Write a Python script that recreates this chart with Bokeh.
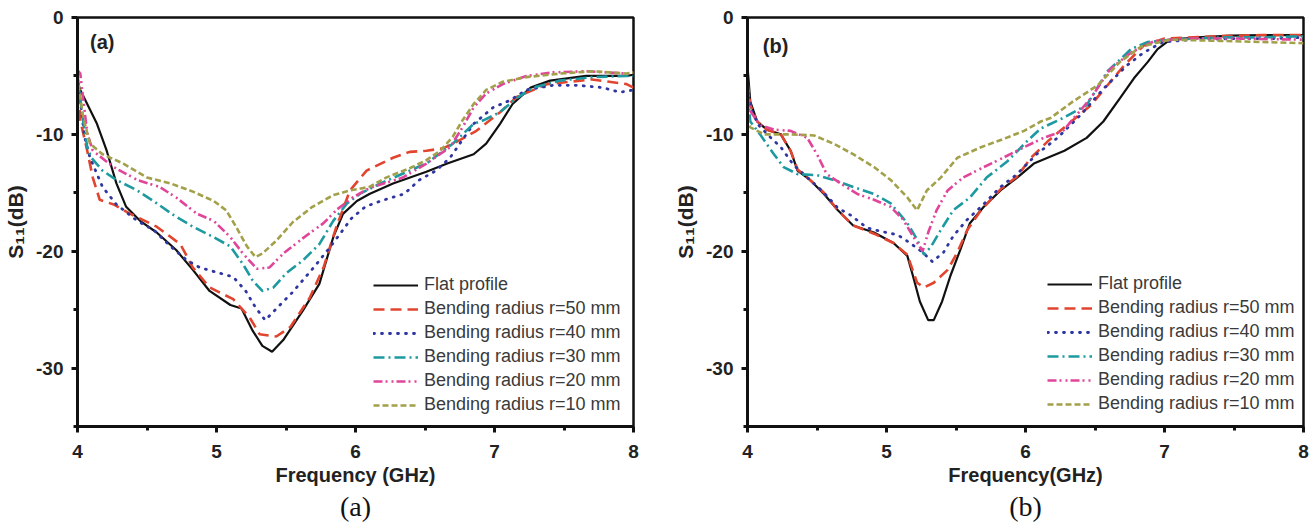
from bokeh.plotting import figure
from bokeh.models import FixedTicker, Legend, LegendItem, Label, Title, Range1d
from bokeh.layouts import row
from bokeh.embed import file_html
from bokeh.resources import INLINE

# ---------------- data ----------------
labels = ["Flat profile", "Bending radius r=50 mm", "Bending radius r=40 mm",
          "Bending radius r=30 mm", "Bending radius r=20 mm", "Bending radius r=10 mm"]
x_ticks = [4, 5, 6, 7, 8]
y_ticks = [0, -10, -20, -30]
y_tick_labels = ["0", "-10", "-20", "-30"]

# Panel (a)
a_flat_x = [4.00, 4.02, 4.07, 4.14, 4.21, 4.28, 4.35, 4.45, 4.57, 4.71, 4.83, 4.95, 5.10, 5.18, 5.26, 5.33, 5.40, 5.48, 5.62, 5.74, 5.84, 5.91, 6.01, 6.10, 6.27, 6.51, 6.66, 6.85, 6.94, 7.04, 7.13, 7.26, 7.40, 7.66, 7.95, 8.00]
a_flat_y = [-5.5, -6.2, -7.4, -9.1, -11.4, -14.2, -16.2, -17.4, -18.4, -19.9, -21.6, -23.4, -24.6, -24.9, -26.8, -28.1, -28.6, -27.6, -25.1, -22.8, -18.8, -16.8, -15.7, -15.1, -14.2, -13.2, -12.5, -11.7, -10.8, -9.1, -7.4, -6.0, -5.4, -5.0, -5.0, -4.9]
a_r50_x = [4.00, 4.02, 4.07, 4.11, 4.16, 4.26, 4.38, 4.57, 4.74, 4.83, 4.95, 5.12, 5.24, 5.31, 5.43, 5.53, 5.67, 5.77, 5.86, 5.96, 6.08, 6.27, 6.39, 6.51, 6.63, 6.75, 6.87, 7.04, 7.16, 7.38, 7.70, 7.95, 8.00]
a_r50_y = [-5.0, -8.8, -11.4, -13.7, -15.6, -16.0, -16.8, -17.9, -19.4, -21.4, -23.1, -24.1, -25.7, -27.1, -27.3, -26.5, -24.0, -21.4, -18.0, -14.8, -13.1, -12.0, -11.5, -11.4, -11.2, -10.5, -9.7, -8.1, -6.8, -5.7, -5.3, -5.7, -6.0]
a_r40_x = [4.00, 4.05, 4.09, 4.18, 4.28, 4.43, 4.55, 4.67, 4.79, 4.88, 5.00, 5.12, 5.21, 5.28, 5.35, 5.44, 5.54, 5.62, 5.72, 5.80, 5.89, 5.97, 6.07, 6.18, 6.35, 6.46, 6.58, 6.68, 6.75, 6.85, 6.99, 7.11, 7.23, 7.42, 7.60, 7.78, 7.90, 8.00]
a_r40_y = [-5.0, -10.2, -12.0, -14.5, -16.0, -17.4, -18.2, -19.6, -20.8, -21.4, -21.8, -22.2, -23.4, -24.8, -25.9, -24.8, -23.6, -22.5, -21.1, -19.9, -18.5, -17.2, -16.2, -15.7, -15.1, -13.9, -13.1, -12.0, -10.8, -9.1, -7.7, -7.1, -6.2, -5.8, -5.8, -6.0, -6.4, -6.2]
a_r30_x = [4.00, 4.03, 4.07, 4.10, 4.18, 4.28, 4.43, 4.57, 4.69, 4.83, 4.98, 5.10, 5.19, 5.26, 5.33, 5.41, 5.50, 5.62, 5.74, 5.84, 5.94, 6.03, 6.18, 6.39, 6.51, 6.70, 6.85, 6.92, 7.04, 7.16, 7.28, 7.47, 7.71, 7.95, 8.00]
a_r30_y = [-5.0, -8.0, -11.1, -12.0, -13.1, -13.9, -14.8, -15.9, -16.9, -17.9, -18.8, -19.6, -21.1, -22.5, -23.4, -23.1, -21.9, -20.8, -19.4, -17.4, -15.9, -15.1, -14.2, -13.1, -12.5, -10.8, -9.1, -8.8, -8.1, -6.9, -6.0, -5.4, -5.1, -5.0, -5.0]
a_r20_x = [4.00, 4.02, 4.07, 4.11, 4.26, 4.43, 4.59, 4.71, 4.86, 4.98, 5.10, 5.19, 5.29, 5.38, 5.48, 5.62, 5.77, 5.87, 5.98, 6.10, 6.34, 6.51, 6.68, 6.77, 6.85, 6.94, 7.06, 7.23, 7.42, 7.66, 7.95, 8.00]
a_r20_y = [-4.5, -4.8, -9.9, -11.4, -12.8, -13.9, -14.5, -15.4, -16.8, -17.4, -18.8, -20.2, -21.5, -21.4, -20.2, -18.9, -17.6, -16.4, -15.4, -14.6, -13.7, -12.5, -11.1, -9.4, -7.7, -6.5, -5.7, -5.0, -4.7, -4.6, -4.8, -4.7]
a_r10_x = [4.00, 4.04, 4.09, 4.18, 4.33, 4.50, 4.67, 4.83, 4.98, 5.07, 5.14, 5.22, 5.28, 5.33, 5.43, 5.55, 5.69, 5.84, 5.96, 6.10, 6.22, 6.39, 6.51, 6.61, 6.70, 6.77, 6.85, 6.94, 7.06, 7.23, 7.47, 7.71, 7.95, 8.00]
a_r10_y = [-5.0, -8.5, -10.8, -11.7, -12.5, -13.7, -14.2, -14.9, -15.7, -16.5, -17.9, -19.6, -20.5, -20.2, -19.1, -17.5, -16.2, -15.2, -14.8, -14.5, -13.7, -12.9, -12.2, -11.4, -10.2, -8.8, -7.4, -6.2, -5.5, -5.1, -4.8, -4.6, -4.8, -4.7]

# Panel (b)
b_flat_x = [4.00, 4.02, 4.07, 4.14, 4.24, 4.31, 4.36, 4.45, 4.55, 4.65, 4.76, 4.91, 5.05, 5.15, 5.19, 5.24, 5.30, 5.34, 5.40, 5.46, 5.53, 5.60, 5.70, 5.82, 5.94, 6.06, 6.28, 6.44, 6.56, 6.68, 6.78, 6.88, 6.95, 7.04, 7.24, 7.48, 7.72, 8.00]
b_flat_y = [-4.2, -7.2, -8.9, -9.6, -10.0, -11.4, -13.1, -13.9, -15.1, -16.5, -17.8, -18.4, -19.3, -20.4, -22.1, -24.3, -25.9, -25.9, -24.3, -22.1, -19.9, -17.6, -16.2, -14.8, -13.7, -12.5, -11.4, -10.3, -8.9, -6.9, -5.2, -3.8, -2.7, -1.9, -1.7, -1.55, -1.5, -1.5]
b_r50_x = [4.00, 4.02, 4.07, 4.14, 4.24, 4.31, 4.36, 4.45, 4.55, 4.65, 4.76, 4.91, 5.05, 5.15, 5.22, 5.27, 5.34, 5.44, 5.51, 5.58, 5.68, 5.82, 5.94, 6.04, 6.16, 6.32, 6.47, 6.71, 6.85, 7.00, 7.40, 7.70, 8.00]
b_r50_y = [-5.5, -7.5, -8.9, -9.6, -10.0, -11.4, -13.0, -13.9, -15.0, -16.5, -17.8, -18.5, -19.3, -20.3, -22.7, -23.1, -22.7, -21.6, -20.1, -18.2, -16.5, -14.7, -13.6, -12.0, -10.6, -9.0, -7.5, -4.1, -2.4, -1.8, -1.6, -1.5, -1.5]
b_r40_x = [4.00, 4.03, 4.08, 4.16, 4.24, 4.33, 4.45, 4.55, 4.65, 4.74, 4.86, 4.96, 5.08, 5.17, 5.26, 5.33, 5.41, 5.48, 5.58, 5.68, 5.82, 5.94, 6.08, 6.23, 6.40, 6.56, 6.73, 6.85, 6.99, 7.19, 7.50, 7.80, 8.00]
b_r40_y = [-6.0, -8.0, -9.2, -10.2, -11.1, -12.6, -13.9, -15.0, -16.3, -16.9, -18.0, -18.3, -18.6, -19.3, -20.1, -20.9, -20.1, -18.7, -17.3, -16.2, -14.5, -13.4, -11.7, -10.3, -8.3, -6.1, -4.1, -3.0, -2.1, -1.9, -1.8, -1.8, -1.7]
b_r30_x = [4.00, 4.02, 4.09, 4.19, 4.26, 4.36, 4.50, 4.62, 4.76, 4.91, 5.03, 5.15, 5.22, 5.27, 5.32, 5.39, 5.48, 5.60, 5.72, 5.87, 6.01, 6.11, 6.27, 6.44, 6.59, 6.76, 6.88, 7.05, 7.40, 7.70, 8.00]
b_r30_y = [-6.5, -8.9, -10.0, -11.7, -12.8, -13.4, -13.5, -13.9, -14.5, -15.1, -15.9, -17.6, -19.0, -20.3, -19.6, -18.2, -16.5, -15.4, -13.7, -12.3, -10.6, -9.5, -8.6, -7.5, -4.6, -2.7, -2.1, -1.9, -1.7, -1.7, -1.6]
b_r20_x = [4.00, 4.02, 4.09, 4.19, 4.31, 4.43, 4.50, 4.57, 4.67, 4.79, 4.91, 5.03, 5.12, 5.19, 5.26, 5.30, 5.36, 5.44, 5.55, 5.70, 5.84, 5.99, 6.13, 6.27, 6.47, 6.61, 6.76, 6.93, 7.20, 7.50, 8.00]
b_r20_y = [-6.0, -8.0, -9.2, -9.6, -9.7, -10.3, -11.7, -13.4, -14.2, -15.1, -15.6, -16.2, -17.3, -18.7, -20.0, -18.4, -16.5, -14.8, -13.7, -12.8, -12.0, -11.1, -10.3, -9.7, -6.9, -4.4, -3.0, -2.0, -1.8, -1.8, -1.9]
b_r10_x = [4.00, 4.02, 4.12, 4.31, 4.48, 4.62, 4.76, 4.91, 5.03, 5.15, 5.22, 5.29, 5.39, 5.51, 5.68, 5.84, 5.99, 6.11, 6.18, 6.34, 6.52, 6.68, 6.83, 7.04, 7.40, 7.70, 8.00]
b_r10_y = [-8.5, -9.4, -10.0, -10.0, -10.1, -10.8, -11.7, -12.8, -13.9, -15.4, -16.5, -14.8, -13.7, -12.0, -11.1, -10.4, -9.7, -8.9, -8.6, -7.2, -5.8, -3.8, -2.5, -1.9, -2.0, -2.1, -2.2]

# ---------------- styles ----------------
colors = ["#111111", "#e2452f", "#2f36a0", "#1d9aa0", "#e0459a", "#a3a04a"]
dashes = ["solid", "11 6", "1 7", "11 4 2 4", "9 3 2 4 2 3", "6 3"]
widths = [2.2, 2.6, 2.8, 2.6, 2.6, 2.6]
caps = ["butt", "butt", "round", "butt", "butt", "butt"]

FONT = "Liberation Sans"


def build(series, width, bl, br, bt, bb, xlabel, tag, tag_xy, caption, leg_xy):
    p = figure(width=width, height=525, x_range=Range1d(4, 8), y_range=Range1d(-35, 0),
               output_backend="svg", toolbar_location=None,
               min_border_left=bl, min_border_right=br, min_border_top=bt, min_border_bottom=bb)
    p.xgrid.visible = False
    p.ygrid.visible = False
    p.outline_line_color = "#111111"
    p.outline_line_width = 2.5
    p.background_fill_color = "white"
    p.border_fill_color = "white"

    p.xaxis.ticker = FixedTicker(ticks=x_ticks, minor_ticks=[4.5, 5.5, 6.5, 7.5])
    p.yaxis.ticker = FixedTicker(ticks=y_ticks, minor_ticks=[-5, -15, -25, -35])
    p.yaxis.major_label_overrides = {t: s for t, s in zip(y_ticks, y_tick_labels)}
    p.xaxis.major_label_overrides = {t: str(t) for t in x_ticks}
    for ax in (p.xaxis, p.yaxis):
        ax.axis_line_width = 3
        ax.axis_line_color = "#111111"
        ax.major_tick_line_width = 3
        ax.minor_tick_line_width = 3
        ax.major_tick_line_color = "#111111"
        ax.minor_tick_line_color = "#111111"
        ax.major_tick_in = 0
        ax.major_tick_out = 6
        ax.minor_tick_in = 0
        ax.minor_tick_out = 4
        ax.major_label_text_font = FONT
        ax.major_label_text_font_style = "bold"
        ax.major_label_text_font_size = "19px"
        ax.major_label_text_color = "#222222"
        ax.axis_label_text_font = FONT
        ax.axis_label_text_font_style = "bold"
        ax.axis_label_text_font_size = "20px"
        ax.axis_label_text_color = "#222222"
    p.xaxis.axis_label = xlabel
    p.yaxis.axis_label = "S\u2081\u2081(dB)"
    p.yaxis.axis_label_text_font_size = "21px"
    p.xaxis.major_label_standoff = 12
    p.yaxis.major_label_standoff = 8
    p.xaxis.axis_label_standoff = 3
    p.yaxis.axis_label_standoff = 6

    items = []
    for (xs, ys), lab, c, d, w, cap in zip(series, labels, colors, dashes, widths, caps):
        r = p.line(xs, ys, line_color=c, line_dash=d, line_width=w, line_cap=cap)
        items.append(LegendItem(label=lab, renderers=[r]))
    leg = Legend(items=items, location=leg_xy, glyph_width=45, glyph_height=20,
                 label_height=20, spacing=3, padding=0, margin=0, label_standoff=6,
                 label_text_font=FONT, label_text_font_size="18px", label_text_color="#3a3a3a",
                 border_line_alpha=0, background_fill_alpha=0)
    p.add_layout(leg)

    p.add_layout(Label(x=tag_xy[0], y=tag_xy[1], text=tag, text_font=FONT,
                       text_font_style="bold", text_font_size="20px",
                       text_color="#222222", text_baseline="middle"))
    p.add_layout(Title(text=caption, align="center", text_font="Liberation Serif",
                       text_font_style="normal", text_font_size="28px",
                       text_color="#111111", standoff=0), "below")
    return p


series_a = [(a_flat_x, a_flat_y), (a_r50_x, a_r50_y), (a_r40_x, a_r40_y),
            (a_r30_x, a_r30_y), (a_r20_x, a_r20_y), (a_r10_x, a_r10_y)]
series_b = [(b_flat_x, b_flat_y), (b_r50_x, b_r50_y), (b_r40_x, b_r40_y),
            (b_r30_x, b_r30_y), (b_r20_x, b_r20_y), (b_r10_x, b_r10_y)]

pa = build(series_a, 658, 77, 25, 17, 99, "Frequency (GHz)", "(a)", (4.09, -2.1), "(a)", (296, 11))
pb = build(series_b, 657, 89, 12, 15, 96, "Frequency(GHz)", "(b)", (4.11, -2.4), "(b)", (300, 12))

layout = row(pa, pb)
open("out.html", "w").write(file_html(layout, INLINE))
